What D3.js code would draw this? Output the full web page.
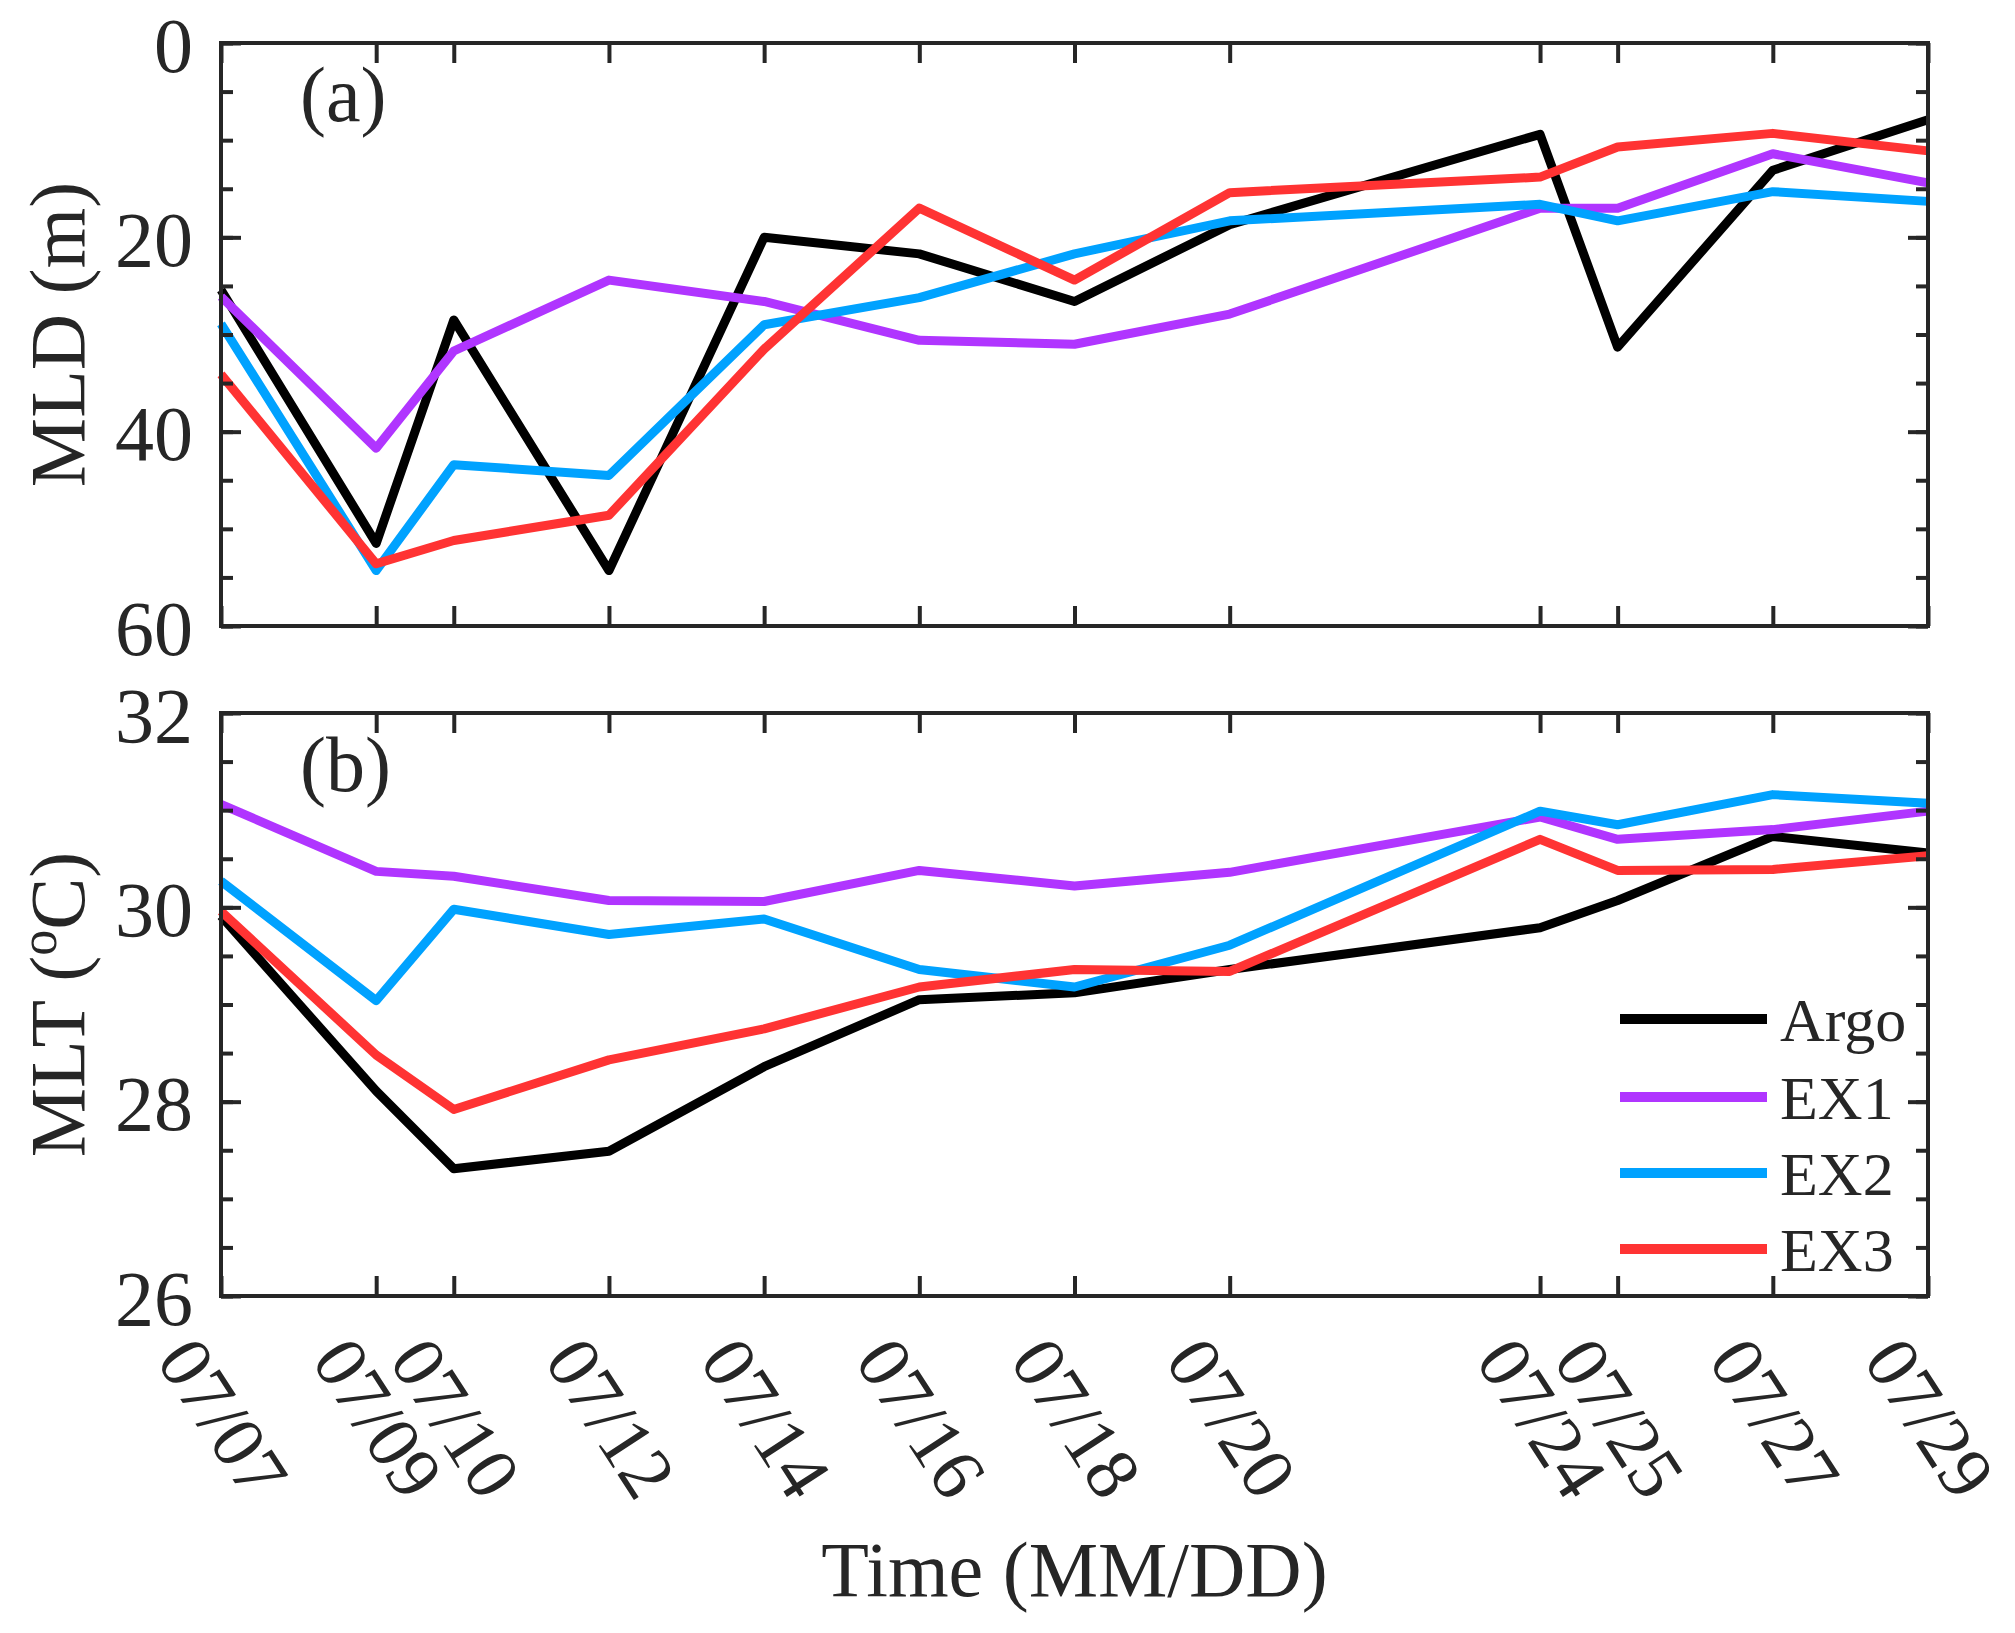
<!DOCTYPE html>
<html>
<head>
<meta charset="utf-8">
<script src="https://cdn.jsdelivr.net/npm/d3@7"></script>
<style>
  html, body { margin: 0; padding: 0; background: #fff; }
  svg { display: block; }
  text { font-family: "Liberation Serif", "Times New Roman", Times, serif; fill: #262626; }
</style>
</head>
<body>
<svg id="chart" width="2015" height="1633"></svg>
<script>
// ---------------- data ----------------
const dateLabels = ["07/07","07/09","07/10","07/12","07/14","07/16","07/18","07/20","07/24","07/25","07/27","07/29"];
const days = [7, 9, 10, 12, 14, 16, 18, 20, 24, 25, 27, 29];

const seriesNames = ["Argo", "EX1", "EX2", "EX3"];
const seriesColors = ["#000000", "#B035FF", "#00A2FF", "#FF3333"];

// Mixed layer depth (m)
const mldArgo = [25.4, 51.5, 28.5, 54.3, 20.0, 21.7, 26.6, 18.7, 9.4, 31.3, 13.1, 7.9];
const mldEX1  = [26.1, 41.7, 31.7, 24.4, 26.6, 30.6, 31.0, 27.9, 17.0, 17.0, 11.4, 14.4];
const mldEX2  = [28.9, 54.3, 43.4, 44.5, 29.0, 26.2, 21.7, 18.3, 16.6, 18.3, 15.3, 16.3];
const mldEX3  = [34.1, 53.6, 51.2, 48.6, 31.5, 17.0, 24.4, 15.4, 13.8, 10.7, 9.3, 11.1];

// Mixed layer temperature (degC)
const mltArgo = [29.91, 28.11, 27.31, 27.49, 28.36, 29.05, 29.12, 29.36, 29.79, 30.07, 30.73, 30.56];
const mltEX1  = [31.06, 30.37, 30.32, 30.07, 30.06, 30.38, 30.22, 30.36, 30.93, 30.70, 30.80, 30.99];
const mltEX2  = [30.27, 29.04, 29.98, 29.72, 29.88, 29.36, 29.18, 29.61, 30.99, 30.85, 31.16, 31.07];
const mltEX3  = [29.96, 28.48, 27.92, 28.43, 28.75, 29.18, 29.36, 29.34, 30.70, 30.38, 30.39, 30.53];

const mldTicks = [0, 20, 40, 60];
const mltTicks = [26, 28, 30, 32];

// ---------------- layout ----------------
const svg = d3.select("#chart");
const left = 221, right = 1928;
const axisColor = "#262626";
const fontSize = 78;

const x = d3.scaleLinear().domain([7, 29]).range([left, right]);

function drawPanel(opts) {
  const { top, bottom, domain, reversed, majorTicks, minorStep, series, label, title } = opts;
  const y = d3.scaleLinear().domain(domain).range(reversed ? [top, bottom] : [bottom, top]);
  const g = svg.append("g");

  // lines
  const line = d3.line().x((d, i) => x(days[i])).y(d => y(d));
  series.forEach((vals, k) => {
    g.append("path")
      .datum(vals)
      .attr("d", line)
      .attr("fill", "none")
      .attr("stroke", seriesColors[k])
      .attr("stroke-width", 9)
      .attr("stroke-linejoin", "round");
  });

  const minorVals = d3.range(domain[0], domain[1] + minorStep / 2, minorStep);
  const fmt = d3.format("d");

  // y axis left (major + minor)
  const yl = g.append("g").attr("transform", `translate(${left},0)`)
    .call(d3.axisLeft(y).tickValues(majorTicks).tickFormat(fmt).tickSizeInner(-20).tickSizeOuter(0).tickPadding(28));
  g.append("g").attr("transform", `translate(${left},0)`)
    .call(d3.axisLeft(y).tickValues(minorVals).tickSizeInner(-12).tickSizeOuter(0).tickFormat(""));
  // y axis right
  g.append("g").attr("transform", `translate(${right},0)`)
    .call(d3.axisRight(y).tickValues(majorTicks).tickSizeInner(-20).tickSizeOuter(0).tickFormat(""));
  g.append("g").attr("transform", `translate(${right},0)`)
    .call(d3.axisRight(y).tickValues(minorVals).tickSizeInner(-12).tickSizeOuter(0).tickFormat(""));
  // x axis top and bottom
  g.append("g").attr("transform", `translate(0,${bottom})`)
    .call(d3.axisBottom(x).tickValues(days).tickSizeInner(-20).tickSizeOuter(0).tickFormat(""));
  g.append("g").attr("transform", `translate(0,${top})`)
    .call(d3.axisTop(x).tickValues(days).tickSizeInner(-20).tickSizeOuter(0).tickFormat(""));

  g.selectAll(".domain").remove();
  g.selectAll(".tick line").attr("stroke", axisColor).attr("stroke-width", 4);
  yl.selectAll(".tick text")
    .attr("font-size", fontSize)
    .attr("font-family", "Liberation Serif, Times New Roman, serif")
    .attr("fill", axisColor)
    .attr("dy", "0.36em");

  // box
  g.append("rect")
    .attr("x", left).attr("y", top)
    .attr("width", right - left).attr("height", bottom - top)
    .attr("fill", "none").attr("stroke", axisColor).attr("stroke-width", 4);

  // panel label
  g.append("text").attr("x", 300).attr("y", top + 78)
    .attr("font-size", fontSize).text(label);

  // y title
  const t = g.append("text")
    .attr("transform", `translate(84,${(top + bottom) / 2}) rotate(-90)`)
    .attr("text-anchor", "middle")
    .attr("font-size", fontSize);
  title(t);
  return y;
}

drawPanel({
  top: 43, bottom: 626, domain: [0, 60], reversed: true,
  majorTicks: mldTicks, minorStep: 5,
  series: [mldArgo, mldEX1, mldEX2, mldEX3],
  label: "(a)",
  title: t => t.text("MLD (m)")
});

drawPanel({
  top: 713, bottom: 1296, domain: [26, 32], reversed: false,
  majorTicks: mltTicks, minorStep: 0.5,
  series: [mltArgo, mltEX1, mltEX2, mltEX3],
  label: "(b)",
  title: t => {
    t.append("tspan").text("MLT (");
    t.append("tspan").attr("baseline-shift", "super").attr("font-size", 52).text("o");
    t.append("tspan").text("C)");
  }
});

// x tick labels (rotated)
svg.append("g").selectAll("text")
  .data(days)
  .join("text")
  .attr("transform", d => `translate(${x(d) + 2},1418) rotate(57)`)
  .attr("text-anchor", "middle")
  .attr("dominant-baseline", "central")
  .attr("font-size", 75)
  .text((d, i) => dateLabels[i]);

// x title
svg.append("text")
  .attr("x", (left + right) / 2).attr("y", 1596)
  .attr("text-anchor", "middle")
  .attr("font-size", fontSize)
  .text("Time (MM/DD)");

// legend
const legend = svg.append("g");
const legY = [1019, 1097, 1173, 1249];
seriesNames.forEach((name, k) => {
  legend.append("line")
    .attr("x1", 1620).attr("x2", 1767)
    .attr("y1", legY[k]).attr("y2", legY[k])
    .attr("stroke", seriesColors[k]).attr("stroke-width", 10);
  legend.append("text")
    .attr("x", 1780).attr("y", legY[k] + 22)
    .attr("font-size", 62)
    .attr("fill", "#000")
    .text(name);
});
</script>
</body>
</html>
